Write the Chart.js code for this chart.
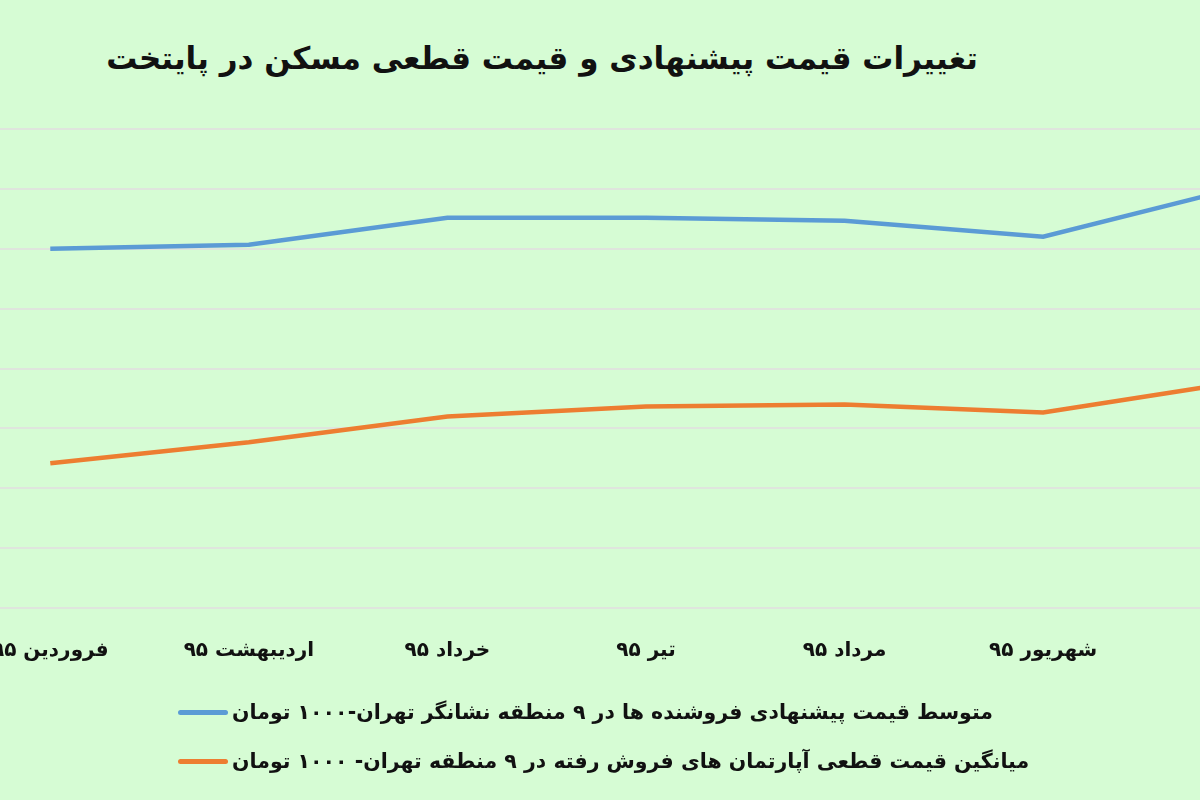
<!DOCTYPE html>
<html lang="fa">
<head>
    <meta charset="UTF-8">
    <title>تغییرات قیمت مسکن</title>
    <script src="https://cdn.jsdelivr.net/npm/chart.js"></script>
    <style>
        html, body {
            margin: 0;
            padding: 0;
            width: 1200px;
            height: 800px;
            overflow: hidden;
            background-color: #d6fcd4;
            font-family: "DejaVu Sans", sans-serif;
        }
        #title {
            position: absolute;
            left: 0;
            top: 40px;
            width: 1084px;
            text-align: center;
            font-size: 31px;
            font-weight: bold;
            color: #111;
        }
        #wrap {
            position: absolute;
            left: -49px;
            top: 0;
            width: 1390px;
            height: 800px;
        }
        .legend-item {
            position: absolute;
            left: 178px;
            display: flex;
            align-items: center;
            font-size: 20.5px;
            font-weight: bold;
            color: #111;
        }
        .legend-item .swatch {
            width: 50px;
            height: 5px;
            border-radius: 3px;
            margin-right: 4px;
        }
    </style>
</head>
<body>
    <div id="title" dir="rtl">تغییرات قیمت پیشنهادی و قیمت قطعی مسکن در پایتخت</div>
    <div id="wrap">
        <canvas id="priceChart" width="1390" height="800"></canvas>
    </div>
    <div class="legend-item" style="top: 700px;">
        <span class="swatch" style="background: #5b9bd5;"></span>
        <span dir="rtl">متوسط قیمت پیشنهادی فروشنده ها در ۹ منطقه نشانگر تهران-۱۰۰۰ تومان</span>
    </div>
    <div class="legend-item" style="top: 749px;">
        <span class="swatch" style="background: #ed7d31;"></span>
        <span dir="rtl">میانگین قیمت قطعی آپارتمان های فروش رفته در ۹ منطقه تهران- ۱۰۰۰ تومان</span>
    </div>
    <script>
        // ماه ها (آخرین ماه بیرون از تصویر بریده شده)
        const months = ['فروردین ۹۵', 'اردیبهشت ۹۵', 'خرداد ۹۵', 'تیر ۹۵', 'مرداد ۹۵', 'شهریور ۹۵', 'مهر ۹۵'];
        // قیمت پیشنهادی (هزار تومان)
        const offerPrice = [6000, 6067, 6517, 6517, 6467, 6200, 7033];
        // قیمت قطعی (هزار تومان)
        const dealPrice = [2417, 2767, 3200, 3367, 3400, 3267, 3783];
        const yMin = 0;
        const yMax = 8000;
        const yStep = 1000;

        const ctx = document.getElementById('priceChart').getContext('2d');
        const priceChart = new Chart(ctx, {
            type: 'line',
            data: {
                labels: months,
                datasets: [{
                    label: 'متوسط قیمت پیشنهادی فروشنده ها در ۹ منطقه نشانگر تهران-۱۰۰۰ تومان',
                    data: offerPrice,
                    borderColor: '#5b9bd5',
                    backgroundColor: '#5b9bd5',
                    borderWidth: 4.5,
                    pointRadius: 0,
                    tension: 0
                }, {
                    label: 'میانگین قیمت قطعی آپارتمان های فروش رفته در ۹ منطقه تهران- ۱۰۰۰ تومان',
                    data: dealPrice,
                    borderColor: '#ed7d31',
                    backgroundColor: '#ed7d31',
                    borderWidth: 4.5,
                    pointRadius: 0,
                    tension: 0
                }]
            },
            options: {
                responsive: false,
                animation: false,
                layout: {
                    padding: { top: 129, bottom: 114, left: 0, right: 0 }
                },
                plugins: {
                    legend: { display: false },
                    title: { display: false },
                    tooltip: { enabled: false }
                },
                scales: {
                    x: {
                        offset: true,
                        grid: { display: false },
                        border: { display: false },
                        ticks: {
                            autoSkip: false,
                            maxRotation: 0,
                            padding: 23,
                            color: '#111',
                            font: { family: 'DejaVu Sans', size: 20, weight: 'bold' }
                        }
                    },
                    y: {
                        min: yMin,
                        max: yMax,
                        border: { display: false },
                        grid: { color: '#dfe5dd', lineWidth: 2, drawTicks: false },
                        ticks: { stepSize: yStep, display: false }
                    }
                }
            }
        });
    </script>
</body>
</html>
